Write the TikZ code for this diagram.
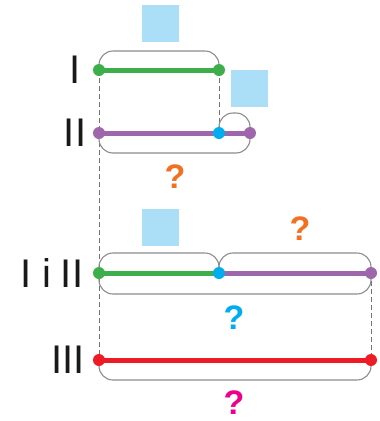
\documentclass[tikz,border=0pt]{standalone}
\usepackage{fontspec}
\setmainfont{Liberation Sans}
\definecolor{segGreen}{RGB}{61,174,73}
\definecolor{segPurple}{RGB}{158,103,171}
\definecolor{segRed}{RGB}{237,28,36}
\definecolor{joinBlue}{RGB}{0,174,239}
\definecolor{askOrange}{RGB}{243,112,33}
\definecolor{askPink}{RGB}{236,0,140}
\definecolor{boxBlue}{RGB}{171,223,248}

\begin{document}
\begin{tikzpicture}[x=1pt,y=-1pt]
 \tikzstyle{dot}=[circle,inner sep=0pt,minimum size=12pt]
 \tikzstyle{seg}=[line width=5pt]
 \tikzstyle{brace}=[draw=black!45,line width=1.1pt,rounded corners=14pt]
 \tikzstyle{guide}=[draw=black!55,dash pattern=on 5pt off 3pt,line width=0.9pt]
 \tikzstyle{numeral}=[font=\fontsize{40}{40}\selectfont,text=black!90]
 \tikzstyle{ask}=[font=\fontsize{34}{34}\selectfont\bfseries]
 \tikzstyle{box}=[fill=boxBlue,minimum size=37pt,inner sep=0pt]

\useasboundingbox (0,0) rectangle (380,421);

% end points
\coordinate (A1) at (99,70);
\coordinate (A2) at (219,70);
\coordinate (B1) at (99,133);
\coordinate (B2) at (219,133);
\coordinate (B3) at (250,133);
\coordinate (C1) at (99,273);
\coordinate (C2) at (219,273);
\coordinate (C3) at (371,273);
\coordinate (D1) at (99,360);
\coordinate (D2) at (371,360);

% guides
\draw[guide] (A1) -- (D1);
\draw[guide] (A2) -- (B2);
\draw[guide] (C3) -- (D2);

% braces
\draw[brace] (A1) -- ++(0,-19) -| (A2);
\draw[brace] (B2) -- ++(0,-20) -| (B3);
\draw[brace] (B1) -- ++(0,20) -| (B3);
\draw[brace] (C1) -- ++(0,-20) -| (C2);
\draw[brace] (C2) -- ++(0,-20) -| (C3);
\draw[brace] (C1) -- ++(0,21) -| (C3);
\draw[brace] (D1) -- ++(0,20) -| (D2);

% segments
\draw[seg,segGreen] (A1) -- (A2);
\draw[seg,segPurple] (B1) -- (B3);
\draw[seg,segGreen] (C1) -- (C2);
\draw[seg,segPurple] (C2) -- (C3);
\draw[seg,segRed] (D1) -- (D2);

% dots
\node[dot,fill=segGreen] (a1) at (A1) {};
\node[dot,fill=segGreen] (a2) at (A2) {};
\node[dot,fill=segPurple] (b1) at (B1) {};
\node[dot,fill=joinBlue] (b2) at (B2) {};
\node[dot,fill=segPurple] (b3) at (B3) {};
\node[dot,fill=segGreen] (c1) at (C1) {};
\node[dot,fill=joinBlue] (c2) at (C2) {};
\node[dot,fill=segPurple] (c3) at (C3) {};
\node[dot,fill=segRed] (d1) at (D1) {};
\node[dot,fill=segRed] (d2) at (D2) {};

% labels
\node[numeral] (lI) at (75,70) {I};
\node[numeral] (lII) at (75,133) {II};
\node[numeral] (lIiII) at (52,273) {I\hspace{10pt}i\hspace{10pt}II};
\node[numeral] (lIII) at (68,360) {III};

\node[box] (sq1) at (160,23) {};
\node[box] (sq2) at (249,88) {};
\node[box] (sq3) at (160,227) {};

\node[ask,askOrange] (q1) at (175,177) {?};
\node[ask,askOrange] (q2) at (300,229) {?};
\node[ask,joinBlue] (q3) at (234,318) {?};
\node[ask,askPink] (q4) at (234,403) {?};
\end{tikzpicture}
\end{document}
